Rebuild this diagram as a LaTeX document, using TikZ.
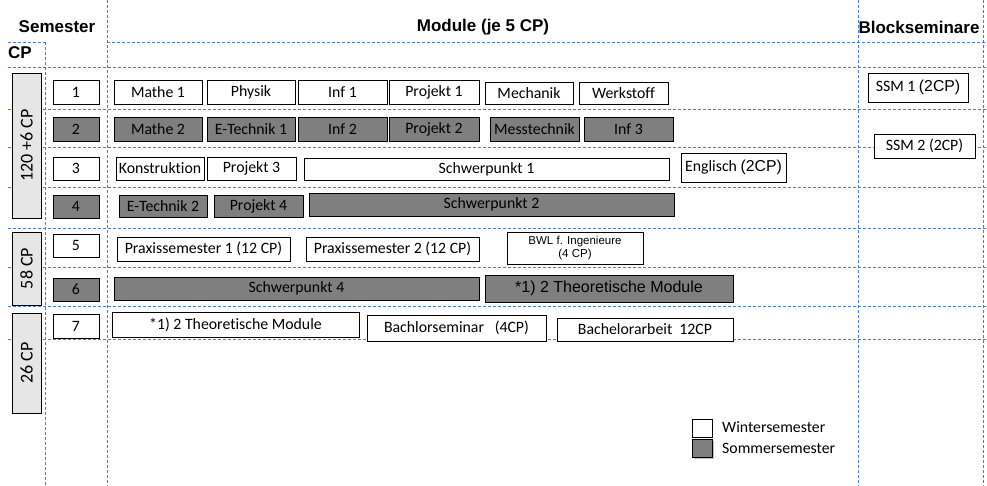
\documentclass[tikz,border=0pt]{standalone}
\usepackage{fontspec}
\setmainfont{Carlito}[Ligatures=NoCommon]
\newfontfamily\arialfont{Liberation Sans}
\usetikzlibrary{shapes,positioning,shadows}

\definecolor{gridblue}{HTML}{4A7BD0}
\definecolor{sommergray}{HTML}{7F7F7F}
\definecolor{cpgray}{HTML}{E6E6E6}

\begin{document}
\begin{tikzpicture}[x=1pt, y=-1pt,
    every node/.style={inner sep=0pt, font=\fontsize{15.8}{17}\selectfont},
    grid/.style={gridblue, dashed, dash pattern=on 3pt off 2pt, line width=0.8pt},
    head/.style={font=\arialfont\bfseries\fontsize{17}{19}\selectfont},
    modbox/.style={draw, rectangle, line width=0.9pt, minimum height=24pt},
    ws/.style={modbox, fill=white},
    ss/.style={modbox, fill=sommergray},
    cpbox/.style={draw, rectangle, line width=0.9pt, fill=cpgray, rotate=90, minimum height=29pt,
                  font=\fontsize{18}{20}\selectfont}]
                \useasboundingbox (0,0) rectangle (987,486);

                % Raster
                \draw[grid] (8,42) -- (45,42);
                \draw[grid] (107,42) -- (987,42);
                \foreach \y in {67,109,147,187,228,267,306,339}
                    \draw[grid] (8,\y) -- (987,\y);
                \draw[grid] (45,42) -- (45,486);
                \foreach \x in {107,858,983}
                    \draw[grid] (\x,0) -- (\x,486);

                % Kopfzeile
                \node[head] (semester) at (57,27) {Semester};
                \node[head] (cp) at (20,53) {CP};
                \node[head] (module) at (483,27) {Module (je 5 CP)};
                \node[head] (block) at (919,27) {Blockseminare};

                % CP
                \node[cpbox, minimum width=145pt] (cpA) at (26.5,145.5) {120 +6 CP};
                \node[cpbox, minimum width=73pt] (cpB) at (26.5,268.5) {58 CP};
                \node[cpbox, minimum width=100pt] (cpC) at (26.5,363) {26 CP};

                % Semester
                \node[ws, minimum width=46pt] (s1) at (76,92) {1};
                \node[ss, minimum width=46pt] (s2) at (76,129) {2};
                \node[ws, minimum width=46pt, minimum height=23pt] (s3) at (76,168.5) {3};
                \node[ss, minimum width=46pt, minimum height=23pt] (s4) at (76,206.5) {4};
                \node[ws, minimum width=46pt, minimum height=23pt] (s5) at (76,245.5) {5};
                \node[ss, minimum width=46pt, minimum height=23pt] (s6) at (76,289.5) {6};
                \node[ws, minimum width=46pt] (s7) at (76,326) {7};

                % 1. Semester
                \node[ws, minimum width=88pt] (mathe1) at (158,92) {Mathe 1};
                \node[ws, minimum width=88pt] (physik) at (251,92) {Physik};
                \node[ws, minimum width=89pt] (inf1) at (342.5,92) {Inf 1};
                \node[ws, minimum width=90pt] (projekt1) at (434,92) {Projekt 1};
                \node[ws, minimum width=88pt, minimum height=22pt] (mechanik) at (529,93) {Mechanik};
                \node[ws, minimum width=89pt, minimum height=22pt] (werkstoff) at (623.5,93) {Werkstoff};
                \node[ws, minimum width=100pt, minimum height=29pt] (ssm1) at (918,87.5) {SSM 1 {\arialfont(2CP)}};

                % 2. Semester
                \node[ss, minimum width=88pt] (mathe2) at (158,129) {Mathe 2};
                \node[ss, minimum width=88pt] (etechnik1) at (251,129) {E-Technik 1};
                \node[ss, minimum width=89pt] (inf2) at (342.5,129) {Inf 2};
                \node[ss, minimum width=90pt] (projekt2) at (434,129) {Projekt 2};
                \node[ss, minimum width=89pt] (messtechnik) at (534.5,129) {Messtechnik};
                \node[ss, minimum width=89pt] (inf3) at (628.5,129) {Inf 3};
                \node[ws, minimum width=101pt] (ssm2) at (924.5,146) {SSM 2 (2CP)};

                % 3. Semester
                \node[ws, minimum width=88pt, minimum height=23pt] (konstruktion) at (160,168.5) {Konstruktion};
                \node[ws, minimum width=89pt, minimum height=23pt] (projekt3) at (251.5,168.5) {Projekt 3};
                \node[ws, minimum width=365pt, minimum height=22pt] (schwerpunkt1) at (486.5,169) {Schwerpunkt 1};
                \node[ws, minimum width=105pt, minimum height=29pt] (englisch) at (733.5,167.5) {Englisch {\arialfont(2CP)}};

                % 4. Semester
                \node[ss, minimum width=88pt, minimum height=22pt] (etechnik2) at (163,206) {E-Technik 2};
                \node[ss, minimum width=89pt, minimum height=22pt] (projekt4) at (258.5,206) {Projekt 4};
                \node[ss, minimum width=365pt, minimum height=23pt] (schwerpunkt2) at (491.5,204.5) {Schwerpunkt 2};

                % 5. Semester
                \node[ws, minimum width=173pt] (praxis1) at (203.5,249) {Praxissemester 1 (12 CP)};
                \node[ws, minimum width=173pt] (praxis2) at (392.5,249) {Praxissemester 2 (12 CP)};
                \node[ws, minimum width=136pt, minimum height=32pt, align=center,
                      font=\arialfont\fontsize{11.5}{12.5}\selectfont] (bwl) at (575,248) {BWL f. Ingenieure\\(4 CP)};

                % 6. Semester
                \node[ss, minimum width=365pt, minimum height=23pt] (schwerpunkt4) at (296.5,288.5) {Schwerpunkt 4};
                \node[ss, minimum width=248pt, minimum height=27pt,
                      font=\arialfont\fontsize{16}{18}\selectfont] (theo6) at (609,288.5) {*1) 2 Theoretische Module};

                % 7. Semester
                \node[ws, minimum width=247pt, minimum height=25pt] (theo7) at (235.5,324.5) {*1) 2 Theoretische Module};
                \node[ws, minimum width=179pt, minimum height=26pt] (bachlorseminar) at (456.5,328) {Bachlorseminar\ \ \ (4CP)};
                \node[ws, minimum width=176pt, minimum height=23pt] (bachelorarbeit) at (645,329.5) {Bachelorarbeit\ \ 12CP};

                % Legende
                \node[ws, minimum width=20pt, minimum height=18pt] (legws) at (702,428) {};
                \node[ss, minimum width=20pt, minimum height=18pt, drop shadow] (legss) at (702,448) {};
                \node[anchor=west] (legwstext) at (722,427) {Wintersemester};
                \node[anchor=west] (legsstext) at (722,448) {Sommersemester};
            \end{tikzpicture}
\end{document}
